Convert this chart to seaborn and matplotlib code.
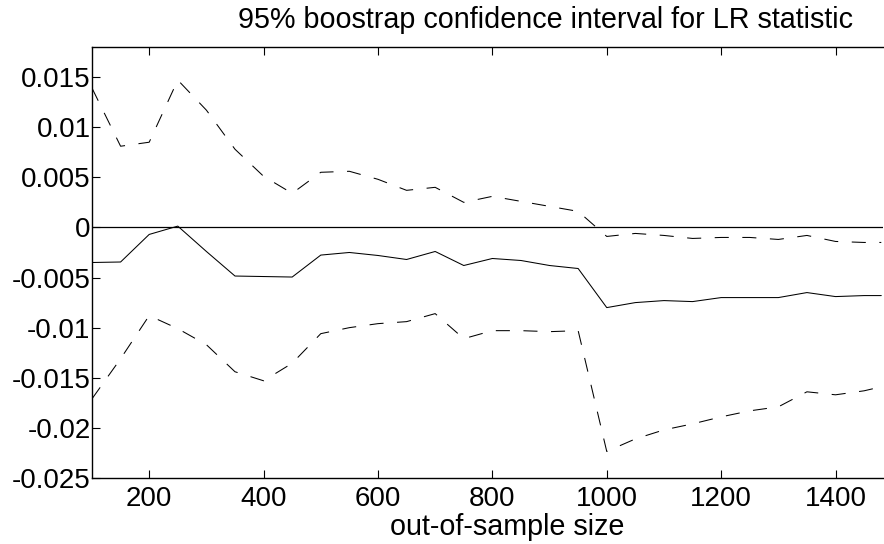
import numpy as np
import pandas as pd
import matplotlib
matplotlib.use("Agg")
import matplotlib.pyplot as plt
import seaborn as sns

sns.set_theme(style="white")
plt.rcParams['font.family'] = ['Liberation Sans', 'DejaVu Sans']

sample_size = [100, 150, 200, 250, 300, 350, 400, 450, 500, 550, 600, 650, 700, 750,
               800, 850, 900, 950, 1000, 1050, 1100, 1150, 1200, 1250, 1300, 1350,
               1400, 1450, 1480]
upper = [0.0139, 0.0081, 0.0085, 0.0147, 0.0117, 0.0078, 0.0051, 0.0034, 0.0055,
         0.0056, 0.0048, 0.0037, 0.0040, 0.0025, 0.0031, 0.0026, 0.0021, 0.0016,
         -0.0009, -0.0006, -0.0008, -0.0011, -0.0010, -0.0010, -0.0012, -0.0008,
         -0.0014, -0.0015, -0.0015]
lr_stat = [-0.0035, -0.00345, -0.0007, 0.00013, -0.0024, -0.00485, -0.0049, -0.00495,
           -0.00276, -0.0025, -0.0028, -0.0032, -0.0024, -0.0038, -0.0031, -0.0033,
           -0.0038, -0.0041, -0.0080, -0.0075, -0.0073, -0.0074, -0.0070, -0.0070,
           -0.0070, -0.0065, -0.0069, -0.0068, -0.0068]
lower = [-0.0171, -0.0131, -0.0088, -0.0101, -0.0117, -0.0144, -0.0153, -0.01355,
         -0.0106, -0.0100, -0.0096, -0.0094, -0.0086, -0.0111, -0.0103, -0.0103,
         -0.0104, -0.0103, -0.02235, -0.0211, -0.0202, -0.0196, -0.0189, -0.0183,
         -0.0179, -0.0164, -0.0167, -0.0163, -0.0159]
x_ticks = [200, 400, 600, 800, 1000, 1200, 1400]
y_ticks = [-0.025, -0.02, -0.015, -0.01, -0.005, 0, 0.005, 0.01, 0.015]
y_ticklabels = ['-0.025', '-0.02', '-0.015', '-0.01', '-0.005', '0', '0.005', '0.01', '0.015']

df = pd.DataFrame({'n': sample_size, 'upper': upper, 'lr': lr_stat, 'lower': lower})

fig = plt.figure(figsize=(8.84, 5.44), dpi=100)
ax = fig.add_axes([92 / 884, 1 - 478 / 544, (883 - 92) / 884, (478 - 47) / 544])

dash = (13.5, 13)
sns.lineplot(data=df, x='n', y='upper', ax=ax, color='black', lw=0.75)
sns.lineplot(data=df, x='n', y='lower', ax=ax, color='black', lw=0.75)
sns.lineplot(data=df, x='n', y='lr', ax=ax, color='black', lw=0.75)
ax.lines[0].set_dashes(dash)
ax.lines[1].set_dashes(dash)
ax.axhline(0, color='black', lw=0.9)

ax.set_xlim(100, 1483)
ax.set_ylim(-0.025, 0.018)
ax.set_xticks(x_ticks)
ax.set_xticklabels([str(t) for t in x_ticks])
ax.set_yticks(y_ticks)
ax.set_yticklabels(y_ticklabels)
ax.set_xlabel('')
ax.set_ylabel('')
ax.tick_params(direction='in', length=6, width=0.8, labelsize=20, colors='black',
               top=True, right=False, bottom=True, left=True)
ax.tick_params(axis='x', pad=6)
ax.tick_params(axis='y', pad=1)
for s in ax.spines.values():
    s.set_color('black')
    s.set_linewidth(1.0)
    s.set_visible(True)
ax.spines['right'].set_visible(False)
ax.grid(False)

fig.text(546 / 884, 1 - 28 / 544, '95% boostrap confidence interval for LR statistic',
         ha='center', va='baseline', fontsize=20.7, color='black')
fig.text(507 / 884, 1 - 535 / 544, 'out-of-sample size', ha='center', va='baseline',
         fontsize=20.7, color='black')

fig.savefig('out.png', dpi=100, facecolor='white')
